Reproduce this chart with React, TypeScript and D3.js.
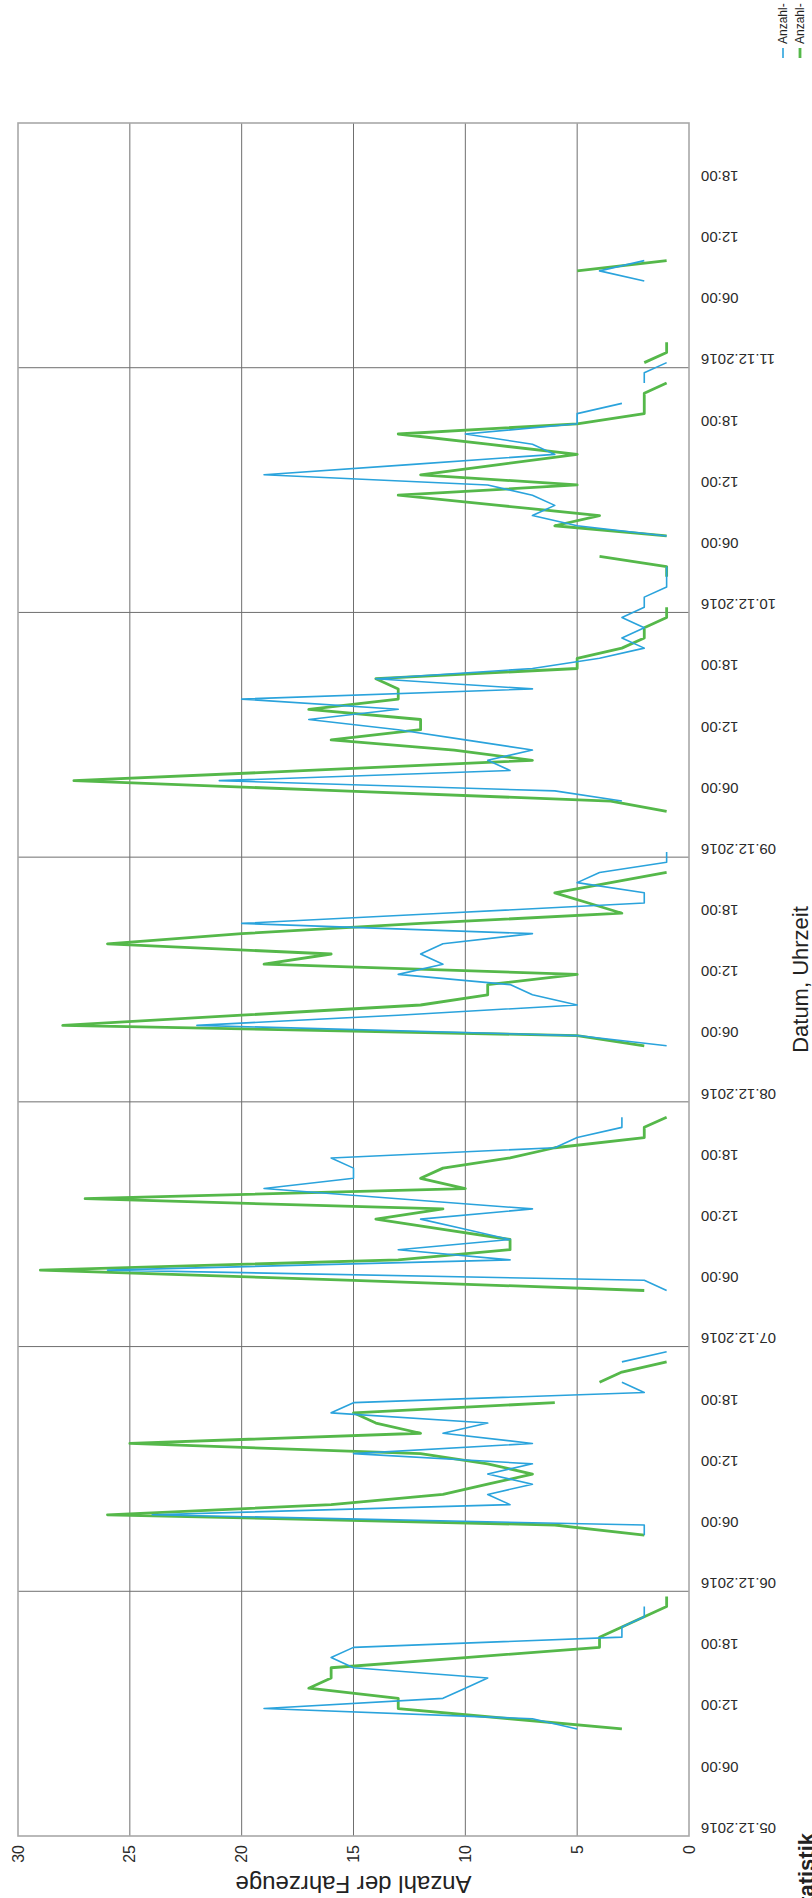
import React from "react";
import * as d3 from "d3";

// ---- data ----
const days = ["05.12.2016", "06.12.2016", "07.12.2016", "08.12.2016", "09.12.2016", "10.12.2016", "11.12.2016"];
const dayEnd = "12.12.2016";
const hourSlots = [
  "00:30", "01:30", "02:30", "03:30", "04:30", "05:30", "06:30", "07:30", "08:30", "09:30", "10:30", "11:30",
  "12:30", "13:30", "14:30", "15:30", "16:30", "17:30", "18:30", "19:30", "20:30", "21:30", "22:30", "23:30",
];
const valueTicks = [0, 5, 10, 15, 20, 25, 30];
const seriesNames = ["Anzahl-", "Anzahl-"];

const N = null;
// blue series (thin line), one array per day, values at hourSlots
const blue0512 = [N, N, N, N, N, N, N, N, N, N, 5, 7, 19, 11, 10, 9, 15, 16, 15, 3, 3, 2, 2, N];
const blue0612 = [N, N, N, N, N, 2, 2, 24, 8, 9, 7, 9, 7, 15, 7, 11, 9, 16, 15, 2, 3, N, 3, 1];
const blue0712 = [N, N, N, N, N, 1, 2, 26, 8, 13, 8, 10, 12, 7, 13, 19, 15, 15, 16, 6, 5, 3, 3, N];
const blue0812 = [N, N, N, N, N, 1, 5, 22, 13, 5, 7, 8, 13, 11, 12, 11, 7, 20, 11, 2, 2, 5, 4, 1];
const blue0912 = [1, N, N, N, N, 3, 6, 21, 8, 9, 7, 10, 13, 17, 13, 20, 7, 14, 7, 4, 2, 3, 2, 3];
const blue1012 = [2, 2, 1, 1, 1, N, N, 1, 5, 7, 6, 7, 9, 19, 12.5, 6, 7, 10, 5, 5, 3, N, 2, 2];
const blue1112 = [1, N, N, N, N, N, N, N, 2, 4, 2, N, N, N, N, N, N, N, N, N, N, N, N, N];

// green series (thick line)
const green0512 = [N, N, N, N, N, N, N, N, N, N, 3, 8, 13, 13, 17, 16, 16, 10, 4, 4, 3, 2, 1, 1];
const green0612 = [N, N, N, N, N, 2, 6, 26, 16, 11, 9, 7, 9, 12, 25, 12, 14, 15, 6, N, 4, 3, 1, N];
const green0712 = [N, N, N, N, N, 2, 15, 29, 13, 8, 8, 11, 14, 11, 27, 10, 12, 11, 8, 6, 2, 2, 1, N];
const green0812 = [N, N, N, N, N, 2, 5, 28, 20, 12, 9, 9, 5, 19, 16, 26, 20, 12, 3, 4.5, 6, 3.5, 1, N];
const green0912 = [N, N, N, N, 1, 3.5, 15.5, 27.5, 17, 7, 10.5, 16, 12, 12, 17, 13, 13, 14, 5, 5, 3, 2, 2, 1];
const green1012 = [1, N, N, 1, 1, 4, N, 1, 6, 4, 8.5, 13, 5, 12, 8.5, 5, 9, 13, 5, 2, 2, 2, 1, N];
const green1112 = [2, 1, 1, N, N, N, N, N, N, 5, 1, N, N, N, N, N, N, N, N, N, N, N, N, N];

const blueDays = [blue0512, blue0612, blue0712, blue0812, blue0912, blue1012, blue1112];
const greenDays = [green0512, green0612, green0712, green0812, green0912, green1012, green1112];

type Pt = { t: Date; v: number | null };

const BLUE = "#2aa3dc";
const GREEN = "#55b84a";
const FONT = "'Liberation Sans', Arial, sans-serif";

export default function App() {
  const W = 812;
  const H = 1898;
  const parseDay = d3.timeParse("%d.%m.%Y");
  const start = parseDay(days[0]) as Date;
  const end = parseDay(dayEnd) as Date;

  const y = d3.scaleTime().domain([start, end]).range([1836, 123]);
  const x = d3.scaleLinear().domain([0, 30]).range([689, 18]);

  const build = (arrs: (number | null)[][]): Pt[] =>
    arrs.flatMap((vals, d) =>
      vals.map((v, i) => {
        const [hh, mm] = hourSlots[i].split(":").map(Number);
        return { t: d3.timeMinute.offset(parseDay(days[d]) as Date, hh * 60 + mm), v };
      })
    );

  const line = d3
    .line<Pt>()
    .defined((p) => p.v != null)
    .x((p) => x(p.v as number))
    .y((p) => y(p.t));

  const bluePath = line(build(blueDays)) || "";
  const greenPath = line(build(greenDays)) || "";

  const timeTicks = d3.timeHour.every(6)!.range(start, end);
  const dayLines = d3.timeDay.range(d3.timeDay.offset(start, 1), end);
  const fmtDay = d3.timeFormat("%d.%m.%Y");
  const fmtHour = d3.timeFormat("%H:%M");

  const [x0, x1] = [x(30), x(0)];
  const [yTop, yBot] = [y(end), y(start)];

  return (
    <svg
      width={W}
      height={H}
      viewBox={`0 0 ${W} ${H}`}
      style={{ position: "absolute", left: 0, top: 0, background: "#fff" }}
      fontFamily={FONT}
    >
      <rect x={0} y={0} width={W} height={H} fill="#fff" />
      {/* value gridlines */}
      {valueTicks
        .filter((v) => v > 0 && v < 30)
        .map((v) => (
          <line key={"gv" + v} x1={x(v)} x2={x(v)} y1={yTop} y2={yBot} stroke="#6f6f6f" strokeWidth={1} />
        ))}
      {/* day gridlines */}
      {dayLines.map((d, i) => (
        <line key={"gd" + i} x1={x0} x2={x1} y1={y(d)} y2={y(d)} stroke="#6f6f6f" strokeWidth={1} />
      ))}
      {/* frame */}
      <rect x={x0} y={yTop} width={x1 - x0} height={yBot - yTop} fill="none" stroke="#a8a8a8" strokeWidth={1.6} />

      {/* series */}
      <path d={greenPath} fill="none" stroke={GREEN} strokeWidth={2.8} strokeLinejoin="round" />
      <path d={bluePath} fill="none" stroke={BLUE} strokeWidth={1.6} strokeLinejoin="round" />

      {/* time tick labels (rotated 180) */}
      {timeTicks.map((t, i) => (
        <text
          key={"tt" + i}
          transform={`translate(701, ${y(t) - 8}) rotate(180)`}
          textAnchor="end"
          dy="0.35em"
          fontSize={15}
          fill="#2a2a2a"
        >
          {t.getHours() === 0 ? fmtDay(t) : fmtHour(t)}
        </text>
      ))}

      {/* value tick labels */}
      {valueTicks.map((v) => (
        <text
          key={"vt" + v}
          transform={`translate(${x(v)}, 1845) rotate(-90)`}
          textAnchor="end"
          dy="0.35em"
          fontSize={16}
          fill="#2a2a2a"
        >
          {v}
        </text>
      ))}

      {/* axis titles */}
      <text
        transform={`translate(${x(15)}, 1876) rotate(180)`}
        textAnchor="middle"
        fontSize={24}
        fill="#222"
      >
        Anzahl der Fahrzeuge
      </text>
      <text
        transform={`translate(808, ${(yTop + yBot) / 2}) rotate(-90)`}
        textAnchor="middle"
        fontSize={22}
        fill="#222"
      >
        Datum, Uhrzeit
      </text>

      {/* legend (cut at page edge) */}
      {seriesNames.map((name, i) => {
        const lx = 783 + i * 17;
        const col = i === 0 ? BLUE : GREEN;
        return (
          <g key={"lg" + i}>
            <line x1={lx} x2={lx} y1={48} y2={58} stroke={col} strokeWidth={i === 0 ? 1.6 : 2.8} />
            <text transform={`translate(${lx}, 44) rotate(-90)`} dy="0.35em" fontSize={12} fill="#222">
              {name}
            </text>
          </g>
        );
      })}

      {/* page heading fragment, cut at page edge */}
      <text
        transform={`translate(814, 1833) rotate(-90)`}
        textAnchor="end"
        fontSize={22}
        fontWeight="bold"
        fill="#222"
      >
        statistik
      </text>
    </svg>
  );
}
